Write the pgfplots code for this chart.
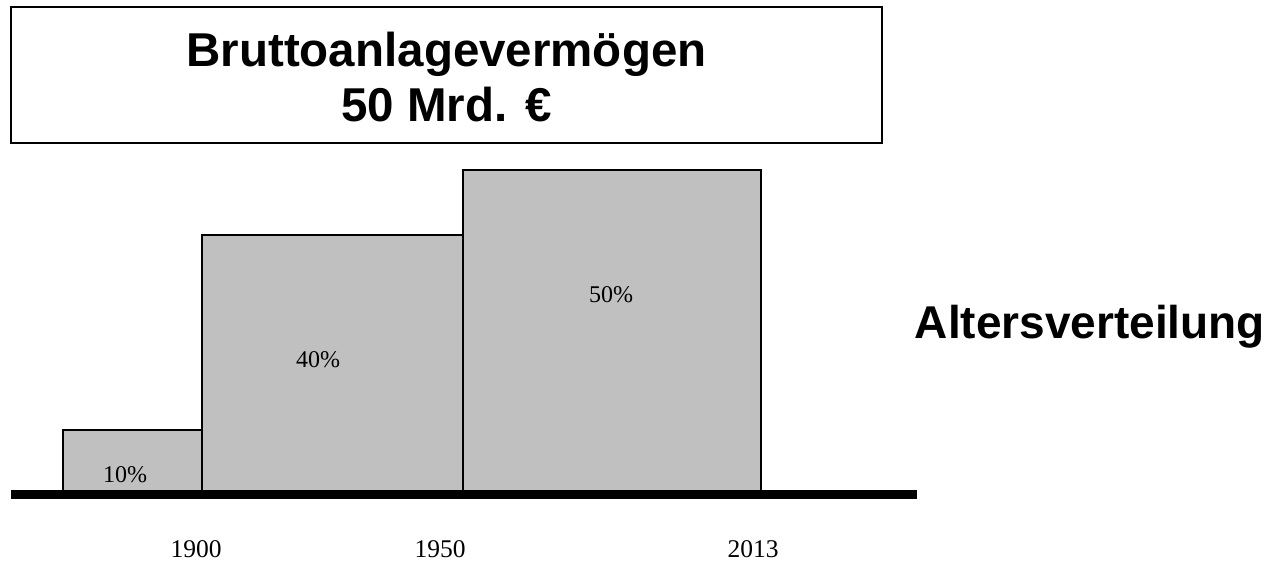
\documentclass[border=0pt]{standalone}
\usepackage{pgfplots}
\pgfplotsset{compat=1.18}
\usepackage{fontspec}
\setmainfont{Liberation Serif}
\setsansfont{Liberation Sans}
\definecolor{barfill}{HTML}{C0C0C0}
\begin{document}
\begin{tikzpicture}
\useasboundingbox (-11pt,-65.5pt) rectangle (1267pt,494.5pt);
\begin{axis}[
  scale only axis,
  width=906pt, height=324.5pt,
  xmin=11, xmax=917, ymin=0, ymax=324.5,
  axis x line=bottom, axis y line=none,
  x axis line style={line width=9pt,-},
  axis on top,
  clip=false,
  major tick length=0pt,
  xtick={196,440,753},
  xticklabels={1900,1950,2013},
  xticklabel style={anchor=base, yshift=-62.5pt, font=\fontsize{25.5}{30}\selectfont},
]
\addplot[ybar interval, fill=barfill, draw=black, line width=2pt]
  coordinates {(63,64.5) (202,259.5) (463,324.5) (761,324.5)};
\node[anchor=base, font=\fontsize{24}{29}\selectfont] at (axis cs:125,12.5) {10\%};
\node[anchor=base, font=\fontsize{24}{29}\selectfont] at (axis cs:318,126.5) {40\%};
\node[anchor=base, font=\fontsize{24}{29}\selectfont] at (axis cs:611,191.5) {50\%};
\draw[line width=2pt] (axis cs:11,487.5) rectangle (axis cs:882,351.5);
\node[anchor=base, font=\sffamily\bfseries\fontsize{47.5}{56}\selectfont] at (axis cs:446.5,427.5) {Bruttoanlagevermögen};
\node[anchor=base, font=\sffamily\bfseries\fontsize{47.5}{56}\selectfont] at (axis cs:446.5,372.5) {50 Mrd. €};
\node[anchor=base, font=\sffamily\bfseries\fontsize{46}{54}\selectfont] at (axis cs:1090,156) {Altersverteilung};
\end{axis}
\end{tikzpicture}
\end{document}
